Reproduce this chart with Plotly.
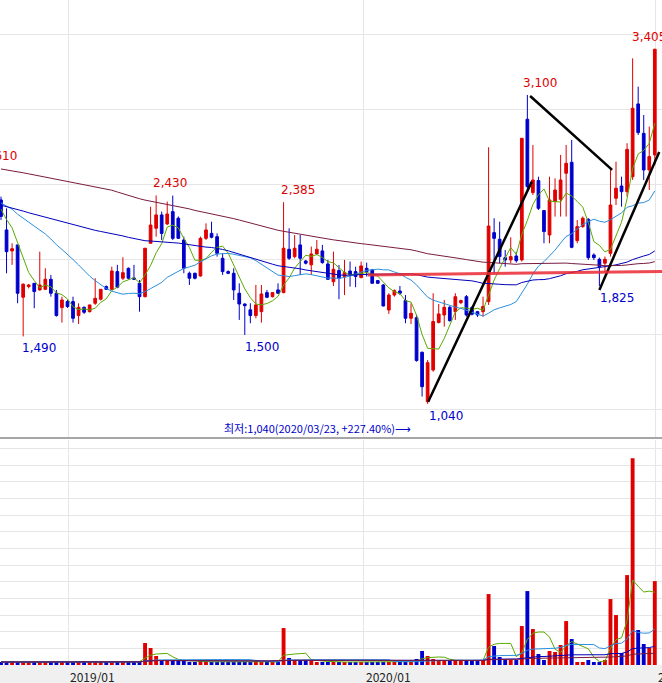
import pandas as pd
import plotly.graph_objects as go

# weekly candles, oldest first (x = week index)
opens = [2400,2200,2060,2100,1751,1822,1844,1800,1804,1871,1778,1682,1722,1722,1629,1684,1655,1711,1738,1822,
         1804,1922,1878,1944,1880,1844,1755,2111,2211,2300,2240,2322,2278,2133,1911,1911,1893,2144,2177,2155,
         2011,1922,1911,1778,1706,1667,1629,1655,1782,1755,1800,1782,2071,2022,2100,1993,1967,2040,2060,1973,
         1855,1929,1889,1926,1922,1882,1944,1933,1862,1833,1666,1766,1793,1729,1611,1615,1384,1055,1266,1582,
         1633,1684,1655,1715,1755,1682,1655,1655,1722,2182,2138,2015,2000,2026,2000,2938,2449,2529,2329,2166,
         2389,2404,2578,2651,2129,2222,2271,2033,2004,1978,2044,2411,2493,2455,2555,3040,2844,2600,2700]
highs = [2422,2344,2111,2100,1844,1840,1844,2055,1944,1900,1800,1755,1733,1755,1711,1690,1700,1878,1760,1830,
         1955,1967,2018,1950,1967,1866,2078,2355,2430,2322,2389,2429,2290,2155,1922,1915,2155,2244,2255,2177,
         2044,1930,1944,1844,1711,1711,1833,1833,1800,1785,1844,2385,2211,2166,2166,2000,2089,2133,2100,2000,
         2055,1966,2000,1989,1955,1989,1982,1940,1866,1840,1778,1804,1826,1766,1711,1633,1389,1333,1778,1706,
         1733,1693,1778,1735,1766,1690,1660,1755,2751,2278,2255,2066,2151,2055,2811,3100,2766,2555,2333,2555,
         2544,2700,2766,2800,2266,2290,2278,2044,2015,2022,2611,2655,2555,2778,3344,3155,2966,2889,3405]
lows = [2266,1911,1967,1711,1490,1810,1678,1795,1800,1755,1622,1582,1680,1582,1573,1640,1650,1700,1730,1800,
        1800,1811,1866,1870,1866,1655,1750,2111,2155,2133,2233,2133,2140,1911,1833,1870,1889,2133,2144,2022,
        1900,1905,1733,1600,1500,1578,1611,1582,1745,1750,1773,1778,2000,2011,1900,1970,1900,2033,1975,1866,
        1826,1738,1766,1822,1818,1878,1889,1844,1840,1690,1640,1755,1766,1578,1573,1322,1089,1040,1255,1578,
        1555,1589,1600,1705,1622,1630,1620,1622,1700,1911,1978,1955,1978,1982,1989,2466,2433,2333,2111,2111,
        2289,2289,2289,2078,2111,2215,2000,2000,1825,1922,2022,2366,2355,2422,2533,2833,2533,2466,2633]
closes = [2290,2055,2075,1778,1838,1833,1789,1833,1871,1778,1629,1733,1689,1611,1684,1651,1700,1744,1804,1804,
          1926,1818,1915,1878,1871,1755,2078,2233,2300,2177,2306,2144,2144,1944,1878,1878,2144,2200,2151,2044,
          1922,1911,1800,1706,1695,1629,1700,1773,1751,1782,1778,2078,2011,2078,2011,1978,2040,2071,1982,1871,
          1938,1878,1915,1900,1889,1960,1922,1844,1844,1693,1766,1795,1778,1611,1644,1329,1155,1315,1589,1640,
          1684,1595,1755,1729,1633,1638,1633,1689,2226,2144,2022,2000,2022,1995,2811,2489,2533,2344,2189,2400,
          2466,2533,2644,2084,2222,2278,2015,2015,1955,2004,2366,2478,2455,2737,3011,2849,2600,2689,3405]
# weekly volume (thousand shares)
volumes = [30,30,40,30,30,30,30,30,30,30,30,30,30,30,30,40,30,30,30,30,30,30,30,30,30,40,220,170,90,50,
           50,50,40,40,30,30,40,30,30,30,30,30,30,30,30,30,40,30,30,30,30,370,70,50,50,50,40,30,30,30,
           30,30,30,30,30,30,30,30,30,30,30,30,30,40,40,60,140,90,60,50,50,40,40,50,40,40,50,50,710,190,
           80,50,50,50,390,740,360,110,50,140,130,200,440,260,30,30,50,30,30,50,660,500,120,900,2070,350,210,170,840]
# earlier weekly closes (before the visible window), used only for the moving averages
history = [3300,3250,3350,3200,3150,3100,3180,3050,3000,3100,3050,2980,3020,2950,3000,3100,3050,2900,2950,3000,
           2980,2900,2950,2850,2900,3000,2950,2880,2920,2850,2800,2900,2850,2780,2800,2750,2820,2700,2750,2700,
           2650,2600,2550,2500,2450,2500,2400,2350,2400,2300,2350,2250,2300,2200,2250,2300,2350,2300,2250,2200,
           2300,2350,2400,2450,2400,2350,2300,2350,2400,2450,2400,2350,2300,2250,2300,2350,2400,2350,2300,2350,
           2400,2450,2500,2450,2400,2350,2300,2350,2400,2450,2400,2350,2300,2350,2400,2450,2400,2350,2300,2350]

tick_pos = [12.1, 65.5, 118.2]
tick_text = ['2019/01', '2020/01', '2021/01']

# high / low labels: position, value, text, anchor
hi_lo_idx = [3.2, 30.5, 53.6, 97.3, 113.5, 3.4, 43.7, 76.9, 107.8]
hi_lo_price = [2610, 2430, 2385, 3100, 3405, 1490, 1500, 1040, 1825]
hi_lo_text = ['2,610', '2,430', '2,385', '3,100', '3,405', '1,490', '1,500', '1,040', '1,825']
hi_lo_anchor = ['right', 'center', 'center', 'center', 'left', 'left', 'left', 'left', 'left']

# hand-drawn trend lines: (start idx, start price, end idx, end price)
trend_lines = [(77.1, 1055, 95.8, 2522), (95.5, 3093, 110.3, 2600), (108, 1800, 118.8, 2720)]
support_line = (66.2, 1900, 119.3, 1922)

RED = '#e00000'
BLUE = '#0000cc'
ma_colors = {5: '#5aaa00', 20: '#2a8fdd', 60: '#0000bb', 120: '#7a1a40'}

idx = list(range(len(closes)))
n_hist = len(history)
all_close = pd.Series(history + closes)
vol = pd.Series(volumes)

fig = go.Figure()
fig.add_trace(go.Candlestick(x=idx, open=opens, high=highs, low=lows, close=closes,
                             increasing=dict(line=dict(color=RED, width=1), fillcolor=RED),
                             decreasing=dict(line=dict(color=BLUE, width=1), fillcolor=BLUE),
                             whiskerwidth=0, xaxis='x', yaxis='y', showlegend=False))
for w, c in ma_colors.items():
    ma = all_close.rolling(w, min_periods=1).mean()[n_hist:]
    fig.add_trace(go.Scatter(x=idx, y=ma, mode='lines', line=dict(color=c, width=1),
                             xaxis='x', yaxis='y', showlegend=False))

bar_colors = [RED if c >= o else BLUE for o, c in zip(opens, closes)]
fig.add_trace(go.Bar(x=idx, y=volumes, marker=dict(color=bar_colors, line_width=0), width=0.7,
                     xaxis='x', yaxis='y2', showlegend=False))
for w, c in ma_colors.items():
    fig.add_trace(go.Scatter(x=idx, y=vol.rolling(w, min_periods=1).mean(), mode='lines',
                             line=dict(color=c, width=1), xaxis='x', yaxis='y2', showlegend=False))

for x0, y0, x1, y1 in trend_lines:
    fig.add_shape(type='line', x0=x0, y0=y0, x1=x1, y1=y1, xref='x', yref='y',
                  line=dict(color='black', width=2.5))
fig.add_shape(type='line', x0=support_line[0], y0=support_line[1], x1=support_line[2], y1=support_line[3],
              xref='x', yref='y', line=dict(color='rgba(235,40,50,0.85)', width=3))

for xi, p, t, a in zip(hi_lo_idx, hi_lo_price, hi_lo_text, hi_lo_anchor):
    high = p > 2200
    fig.add_annotation(x=xi, y=p, text=t, showarrow=False, xref='x', yref='y', xanchor=a,
                       yanchor='bottom' if high else 'top', yshift=3 if high else -3,
                       font=dict(color=RED if high else BLUE, size=12, family='DejaVu Sans'))
fig.add_annotation(x=57.2, y=880, text='최저:1,040(2020/03/23, +227.40%)⟶', showarrow=False,
                   xref='x', yref='y', font=dict(color=BLUE, size=11, family='Noto Sans CJK KR'))

for p, t in zip(tick_pos, tick_text):
    fig.add_annotation(x=p, y=0, xref='x', yref='paper', text=t, showarrow=False, xanchor='left',
                       yanchor='top', yshift=-1, font=dict(size=12, color='#222', family='Noto Sans CJK KR'))

# bottom label band and pane separator
fig.add_shape(type='rect', xref='paper', yref='paper', x0=0, x1=1, y0=-0.03, y1=0, layer='below',
              fillcolor='#f0f0f0', line_width=0)
fig.add_shape(type='line', xref='paper', yref='paper', x0=0, x1=1, y0=0.3413, y1=0.3413,
              line=dict(color='#888', width=1.5))

fig.update_layout(
    width=662, height=683, margin=dict(l=0, r=0, t=0, b=18),
    paper_bgcolor='white', plot_bgcolor='white', bargap=0.3,
    xaxis=dict(range=[-0.18, 119.3], tickvals=tick_pos, showticklabels=False, showgrid=True,
               gridcolor='#e6e6e6', zeroline=False, rangeslider=dict(visible=False), anchor='y2'),
    yaxis=dict(domain=[0.343, 1], range=[820, 3733], dtick=500, tick0=1000, showticklabels=False,
               gridcolor='#e6e6e6', zeroline=False),
    yaxis2=dict(domain=[0, 0.338], range=[0, 2250], dtick=166.7, showticklabels=False,
                gridcolor='#e6e6e6', zeroline=False),
)
fig.write_html('out.html', config={'displayModeBar': False},
               post_script="document.body.style.margin='0';document.body.style.overflow='hidden';")
